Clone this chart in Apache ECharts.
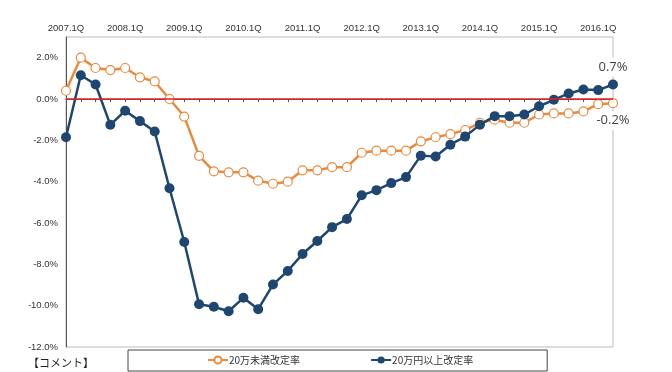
<!DOCTYPE html>
<html><head><meta charset="utf-8">
<script src="https://cdn.jsdelivr.net/npm/echarts@6/dist/echarts.min.js"></script>
<style>html,body{margin:0;padding:0;background:#fff}#c{width:672px;height:372px}</style>
</head><body><div id="c"></div>
<script>
var categories = [];
var years = [2007,2008,2009,2010,2011,2012,2013,2014,2015,2016];
years.forEach(function(y){ for (var q=1;q<=4;q++){ categories.push(y + '.' + q + 'Q'); } });
categories = categories.slice(0, 38);

var seriesNames = ['20万未満改定率', '20万円以上改定率'];
var under20 = [0.4, 2.0, 1.5, 1.4, 1.5, 1.05, 0.85, 0.0, -0.85, -2.75,
  -3.5, -3.55, -3.55, -3.95, -4.1, -4.0, -3.45, -3.45, -3.3, -3.3,
  -2.6, -2.5, -2.5, -2.5, -2.05, -1.85, -1.7, -1.5, -1.15, -1.0,
  -1.15, -1.15, -0.75, -0.7, -0.7, -0.6, -0.25, -0.2];
var over20 = [-1.85, 1.15, 0.7, -1.25, -0.57, -1.07, -1.57, -4.32, -6.92, -9.93,
  -10.05, -10.27, -9.62, -10.17, -8.98, -8.32, -7.5, -6.87, -6.2, -5.81,
  -4.66, -4.41, -4.07, -3.78, -2.74, -2.78, -2.21, -1.82, -1.24, -0.83,
  -0.83, -0.75, -0.35, -0.04, 0.27, 0.46, 0.43, 0.7];
var yTicks = {min: -12, max: 3, interval: 2};

var ORANGE = '#EA8A3D', NAVY = '#1E4670';

function withEndLabel(arr, pos, dist) {
  return arr.map(function(v, i){
    if (i !== arr.length - 1) return v;
    return {value: v, label: {show: true, position: pos, distance: dist,
      formatter: function(p){ return p.value.toFixed(1) + '%'; },
      color: '#444', fontSize: 13, fontFamily: 'Open Sans, sans-serif',
      backgroundColor: '#fff', padding: [3, 2, 3, 2]}};
  });
}

var chart = echarts.init(document.getElementById('c'), null, {renderer: 'canvas'});
chart.setOption({
  animation: false,
  backgroundColor: '#fff',
  grid: {left: 66, right: 59, top: 37, bottom: 25, show: true, borderColor: '#bbb', borderWidth: 1, backgroundColor: 'transparent'},
  xAxis: {
    type: 'category', position: 'top', data: categories, boundaryGap: false,
    axisLine: {lineStyle: {color: '#555', width: 1}},
    axisTick: {show: true, inside: true, length: 3, interval: 0, lineStyle: {color: '#555'}},
    axisLabel: {interval: 3, color: '#333', fontSize: 9.5, fontFamily: 'Liberation Sans, sans-serif', margin: 4},
    splitLine: {show: false}
  },
  yAxis: {
    type: 'value', min: yTicks.min, max: yTicks.max, interval: yTicks.interval,
    axisLine: {show: true, lineStyle: {color: '#555', width: 1}},
    axisTick: {show: false},
    splitLine: {show: false},
    axisLabel: {showMaxLabel: false, color: '#333', fontSize: 9.5, fontFamily: 'Liberation Sans, sans-serif', margin: 8,
      formatter: function(v){ return v.toFixed(1) + '%'; }}
  },
  legend: {
    left: 128, top: 350, padding: [5, 74, 6, 79], itemGap: 70,
    borderColor: '#444', borderWidth: 1, itemWidth: 20, itemHeight: 9,
    textStyle: {fontSize: 10, color: '#333', fontFamily: 'Noto Sans CJK JP, sans-serif', padding: [0,0,0,-4]},
    data: seriesNames
  },
  series: [
    {
      name: seriesNames[0], type: 'line', data: withEndLabel(under20, 'bottom', 3),
      symbol: 'circle', symbolSize: 9, z: 3, showAllSymbol: true,
      lineStyle: {color: ORANGE, width: 2.5},
      itemStyle: {color: '#fff', borderColor: ORANGE, borderWidth: 1.2},
      markLine: {silent: true, symbol: 'none', label: {show: false},
        lineStyle: {color: '#E02020', width: 1.5, type: 'solid'}, data: [{yAxis: 0}]}
    },
    {
      name: seriesNames[1], type: 'line', data: withEndLabel(over20, 'top', 3),
      symbol: 'circle', symbolSize: 10, z: 4, showAllSymbol: true,
      lineStyle: {color: NAVY, width: 2.5},
      itemStyle: {color: NAVY}
    }
  ],
  graphic: [{type: 'text', left: 28, top: 357,
    style: {text: '【コメント】', fontSize: 11, fill: '#222', fontFamily: 'Noto Sans CJK JP, sans-serif'}}]
});
</script></body></html>
